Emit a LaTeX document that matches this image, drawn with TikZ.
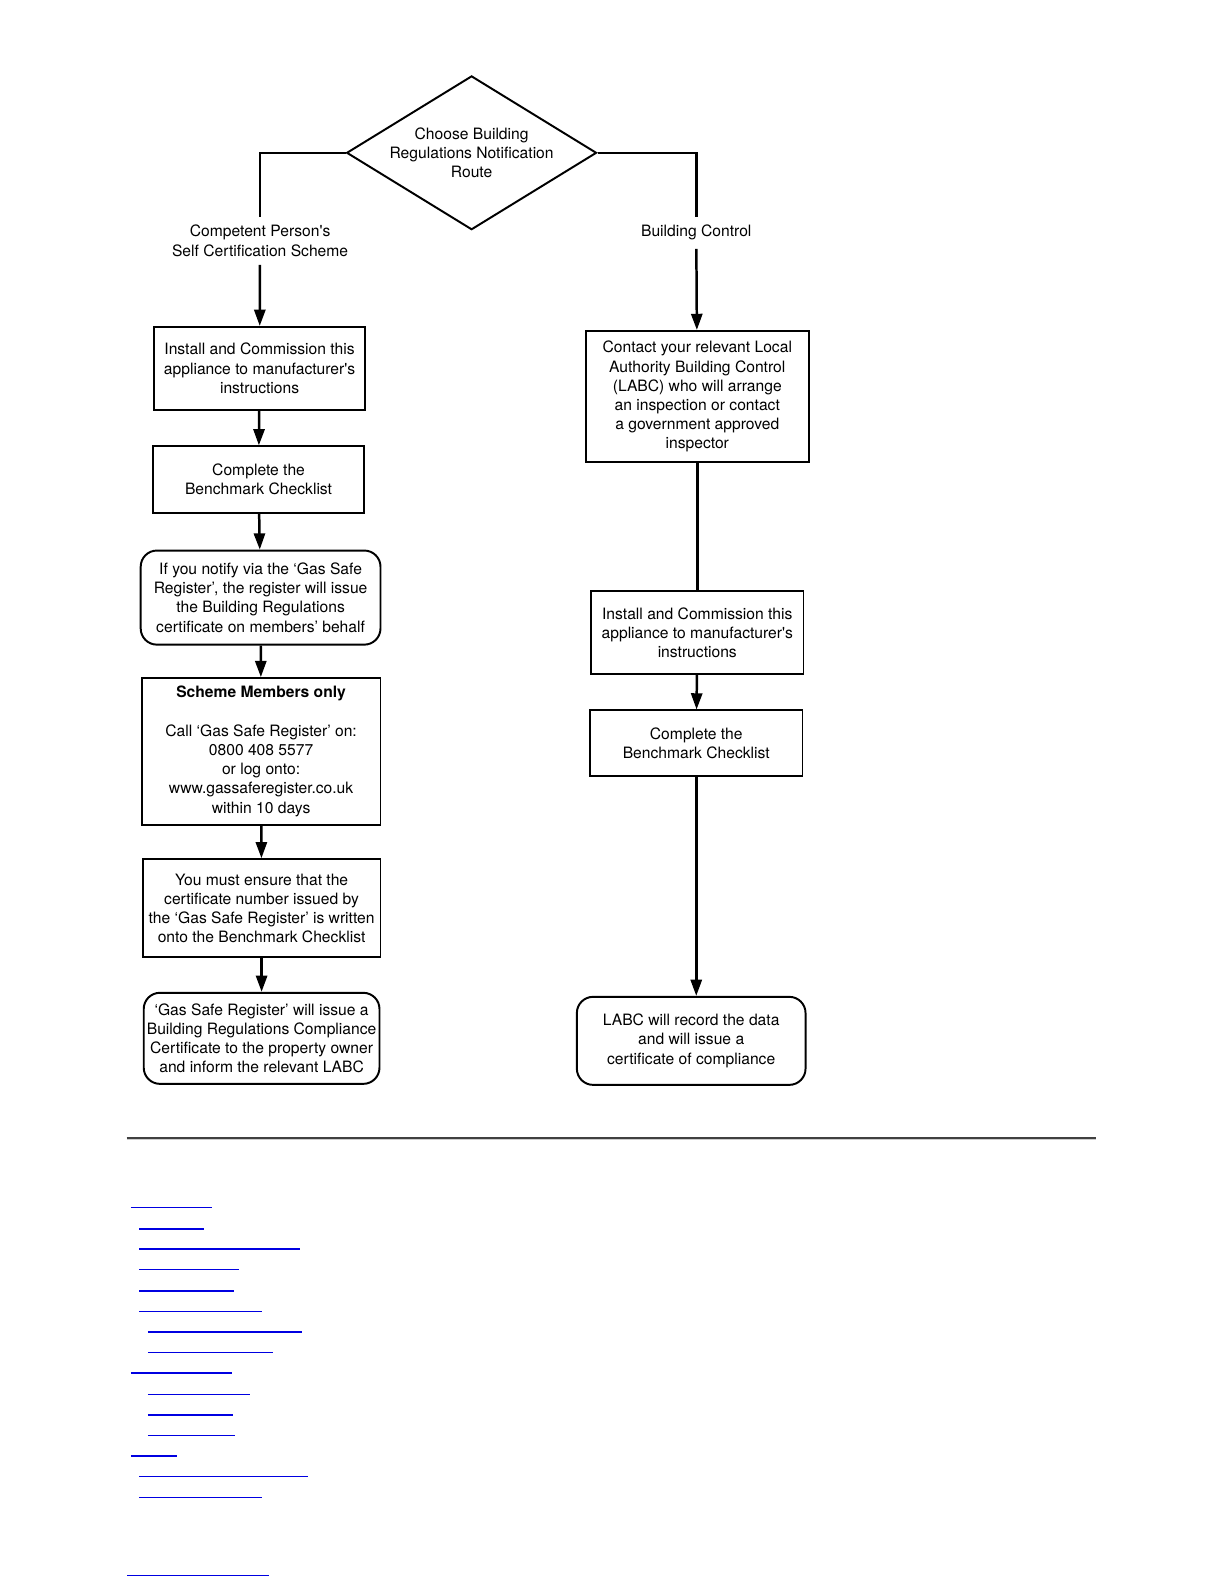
\documentclass[tikz,border=0pt]{standalone}
\usepackage{fontspec}
\setmainfont{TeX Gyre Heros}
\usepackage{tikz}
\usetikzlibrary{arrows.meta,shapes.geometric}

\definecolor{linkblue}{RGB}{0,0,225}
\tikzset{
	box/.style={draw,line width=1.1pt,align=center,inner sep=0pt,font=\fontsize{8.8}{10.8}\selectfont},
	rbox/.style={box,rounded corners=0.32cm},
	lab/.style={align=center,inner sep=0.16cm,font=\fontsize{8.8}{10.8}\selectfont},
	line/.style={line width=1.4pt},
	arr/.style={line,-{Triangle[length=0.32cm,width=0.22cm]}}
}

\begin{document}
\begin{tikzpicture}[x=0.02cm,y=-0.02cm] % 1 unit = 1 px of the page
				\useasboundingbox (0,0) rectangle (1210.5,1566.2);
				\node[draw,shape=diamond,line width=1.1pt,aspect=1.625,inner sep=0pt,minimum width=4.94cm,minimum height=3.04cm,align=center,font=\fontsize{8.8}{10.8}\selectfont] (dia) at (466,151) {Choose Building\\Regulations Notification\\Route};
				\node[lab] (CPS) at (257,238) {Competent Person\textquotesingle s\\Self Certification Scheme};
				\node[lab] (BC) at (688,230) {Building Control};
				% left branch
				\node[box,minimum width=4.18cm,minimum height=1.64cm] (L1) at (256.5,364) {Install and Commission this\\appliance to manufacturer\textquotesingle s\\instructions};
				\node[box,minimum width=4.18cm,minimum height=1.32cm] (L2) at (255.5,474) {Complete the\\Benchmark Checklist};
				\node[rbox,minimum width=4.74cm,minimum height=1.86cm] (L3) at (257.5,590.5) {If you notify via the ‘Gas Safe\\Register’, the register will issue\\the Building Regulations\\certificate on members’ behalf};
				\node[box,minimum width=4.72cm,minimum height=2.9cm] (L4) at (258,742.5) {\textbf{Scheme Members only}\\[10.8pt]Call ‘Gas Safe Register’ on:\\0800 408 5577\\or log onto:\\www.gassaferegister.co.uk\\within 10 days};
				\node[box,minimum width=4.7cm,minimum height=1.94cm] (L5) at (258.5,897.5) {You must ensure that the\\certificate number issued by\\the ‘Gas Safe Register’ is written\\onto the Benchmark Checklist};
				\node[rbox,minimum width=4.66cm,minimum height=1.8cm] (L6) at (258.5,1026) {‘Gas Safe Register’ will issue a\\Building Regulations Compliance\\Certificate to the property owner\\and inform the relevant LABC};
				% right branch
				\node[box,minimum width=4.4cm,minimum height=2.6cm] (R1) at (689,392) {Contact your relevant Local\\Authority Building Control\\(LABC) who will arrange\\an inspection or contact\\a government approved\\inspector};
				\node[box,minimum width=4.2cm,minimum height=1.64cm] (R2) at (689,625) {Install and Commission this\\appliance to manufacturer\textquotesingle s\\instructions};
				\node[box,minimum width=4.2cm,minimum height=1.3cm] (R3) at (688,734.5) {Complete the\\Benchmark Checklist};
				\node[rbox,minimum width=4.52cm,minimum height=1.74cm] (R4) at (683,1028.5) {LABC will record the data\\and will issue a\\certificate of compliance};
				% connectors
				\draw[line] (dia.west) -| (CPS.north);\draw[line] (dia.east) -| (BC.north);
				\draw[arr] (CPS) -- (L1);\draw[arr] (L1) -- (L2);
				\draw[arr] (L2) -- (L3);\draw[arr] (L3) -- (L4);
				\draw[arr] (L4) -- (L5);\draw[arr] (L5) -- (L6);
				\draw[arr] (BC) -- (R1);\draw[line] (R1) -- (R2);
				\draw[arr] (R2) -- (R3);\draw[arr] (R3.south) -- (R3.south |- R4.north);
				% rule and links below
				\draw[black!75,line width=1.2pt] (125,1124.5) -- (1083,1124.5);
				\draw[black!20,line width=0.6pt] (125,1126.4) -- (1083,1126.4);
				\foreach \xa/\xb/\yy/\lw in {129.4/209.2/1193/0.6,137.4/201.6/1214/1.1,137.4/296.4/1234.2/0.6,
					137.4/236.2/1254.6/0.6,137.4/231.2/1275.4/1.1,137.4/258.9/1295.5/0.6,146.2/298.4/1316.2/0.6,
					146.2/269.8/1336.6/0.6,129.4/229.2/1356.7/0.6,146.2/247/1377.5/0.6,146.2/230.2/1398.2/0.6,
					146.2/232.2/1418.7/0.6,129.4/174.9/1438.7/0.6,137.4/304.3/1459.2/0.6,137.4/258.9/1480/0.6,
					125.5/265.8/1556.6/0.6}
					\draw[linkblue,line width=\lw pt] (\xa,\yy) -- (\xb,\yy);
			\end{tikzpicture}
\end{document}
